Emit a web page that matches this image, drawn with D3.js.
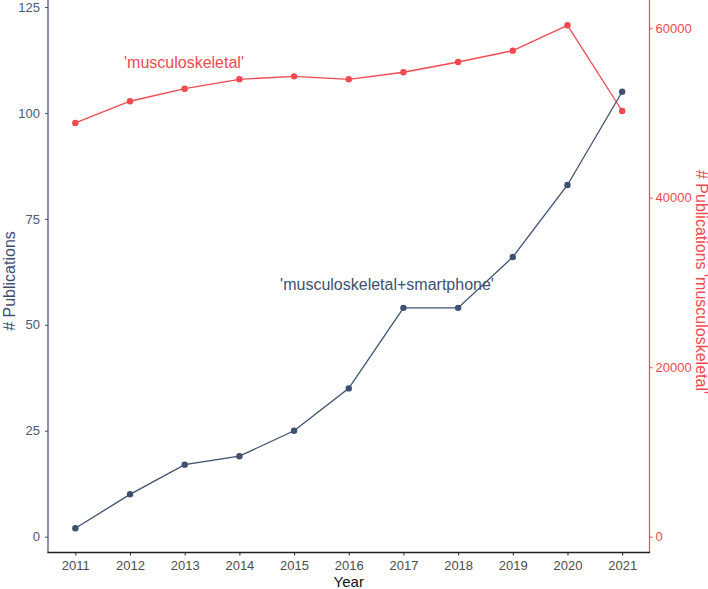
<!DOCTYPE html>
<html><head><meta charset="utf-8">
<script src="https://cdn.jsdelivr.net/npm/d3@7"></script>
<style>body{margin:0;background:#fff}svg{display:block;font-family:"Liberation Sans",Arial,sans-serif}</style>
</head><body>
<svg id="c" width="708" height="589"></svg>
<script>
const years = [2011,2012,2013,2014,2015,2016,2017,2018,2019,2020,2021];
const smartphone = [2,10,17,19,25,35,54,54,66,83,105];
const musculoskeletal = [48820,51380,52860,53970,54320,53970,54800,56010,57350,60340,50230];
const leftTicks = [0,25,50,75,100,125];
const rightTicks = [0,20000,40000,60000];
const RATIO = 500;

const navy = "#3E5070", red = "#F2484F";
const svg = d3.select("#c");
const L = 48, R = 649.5, T = 0, B = 552.5;

const x = d3.scalePoint().domain(years).range([L, R]).padding(0.5);
const y = d3.scaleLinear().domain([0,125]).range([536.7,7]);
const y2 = d3.scaleLinear().domain([0,125*RATIO]).range([536.7,7]);

// axes
const gl = svg.append("g").attr("transform",`translate(${L},0)`)
  .call(d3.axisLeft(y).tickValues(leftTicks).tickSize(3).tickPadding(5));
gl.select(".domain").remove();
gl.append("line").attr("x1",0).attr("x2",0).attr("y1",T).attr("y2",B).attr("stroke",navy).attr("stroke-width",1.2);
gl.selectAll(".tick line").attr("stroke",navy);
gl.selectAll(".tick text").attr("fill","#4a5a77").attr("font-size",13);

const gr = svg.append("g").attr("transform",`translate(${R},0)`)
  .call(d3.axisRight(y2).tickValues(rightTicks).tickSize(3).tickPadding(3).tickFormat(d3.format("d")));
gr.select(".domain").remove();
gr.append("line").attr("x1",0).attr("x2",0).attr("y1",T).attr("y2",B).attr("stroke",red).attr("stroke-width",1.2);
gr.selectAll(".tick line").attr("stroke",red);
gr.selectAll(".tick text").attr("fill",red).attr("font-size",13);

const gb = svg.append("g").attr("transform",`translate(0,${B})`)
  .call(d3.axisBottom(x).tickSize(3).tickPadding(5));
gb.select(".domain").remove();
gb.append("line").attr("x1",L-0.6).attr("x2",R+0.6).attr("y1",0).attr("y2",0).attr("stroke","#222").attr("stroke-width",1.3);
gb.selectAll(".tick line").attr("stroke","#222");
gb.selectAll(".tick text").attr("fill","#4d4d4d").attr("font-size",13);

// titles
svg.append("text").attr("x",(L+R)/2).attr("y",587).attr("text-anchor","middle")
  .attr("font-size",15).attr("fill","#111").text("Year");
svg.append("text").attr("transform",`translate(15,281) rotate(-90)`).attr("text-anchor","middle")
  .attr("font-size",16).attr("fill",navy).text("# Publications");
svg.append("text").attr("transform",`translate(695.5,282) rotate(90)`).attr("text-anchor","middle")
  .attr("font-size",16).attr("fill",red).text("# Publications 'musculoskeletal'");

// lines
const lineL = d3.line().x((d,i)=>x(years[i])).y(d=>y(d));
const lineR = d3.line().x((d,i)=>x(years[i])).y(d=>y2(d));
svg.append("path").datum(musculoskeletal).attr("d",lineR).attr("fill","none").attr("stroke",red).attr("stroke-width",1.3);
svg.append("g").selectAll("circle").data(musculoskeletal).join("circle")
  .attr("cx",(d,i)=>x(years[i])).attr("cy",d=>y2(d)).attr("r",3.2).attr("fill",red);
svg.append("path").datum(smartphone).attr("d",lineL).attr("fill","none").attr("stroke",navy).attr("stroke-width",1.3);
svg.append("g").selectAll("circle").data(smartphone).join("circle")
  .attr("cx",(d,i)=>x(years[i])).attr("cy",d=>y(d)).attr("r",3.2).attr("fill",navy);

// annotations
svg.append("text").attr("x",184).attr("y",68).attr("text-anchor","middle").attr("font-size",16)
  .attr("fill",red).text("'musculoskeletal'");
svg.append("text").attr("x",387).attr("y",290).attr("text-anchor","middle").attr("font-size",16)
  .attr("fill",navy).text("'musculoskeletal+smartphone'");
</script>
</body></html>
